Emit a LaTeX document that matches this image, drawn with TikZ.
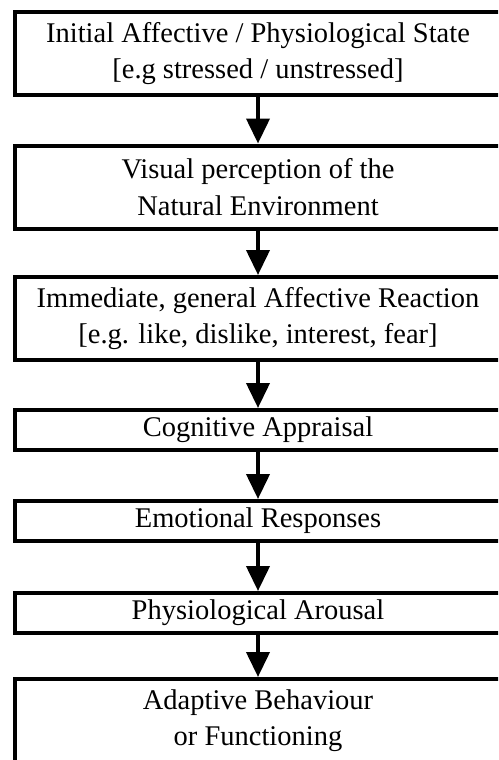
\documentclass[tikz,border=0pt]{standalone}
\usepackage{fontspec}
\setmainfont{Liberation Serif}
\usetikzlibrary{arrows.meta}

\tikzset{
  etape/.style={draw, line width=4pt, minimum width=486pt, inner sep=0pt,
    align=center, font=\fontsize{28.5}{36.5}\selectfont},
  haute/.style={etape, minimum height=83pt},
  basse/.style={etape, minimum height=40pt},
  fleche/.style={line width=4pt, -{Triangle[length=25pt, width=23pt]}}
}

\begin{document}
\begin{tikzpicture}[x=1pt, y=1pt]
  % Cadre
  \useasboundingbox (0,0) rectangle (498,-760);
  \clip (0,0) rectangle (498,-760);

  % Étapes
  \node[haute] (init) at (258,-53.5) {Initial Affective / Physiological State\\{[e.g stressed / unstressed]}};
  \node[haute] (vision) at (258,-187) {Visual perception of the\\Natural Environment};
  \node[haute] (reaction) at (258,-318.5) {Immediate, general Affective Reaction\\{[e.g. like, dislike, interest, fear]}};
  \node[basse] (cognition) at (258,-430) {Cognitive Appraisal};
  \node[basse] (emotion) at (258,-521) {Emotional Responses};
  \node[basse] (eveil) at (258,-613) {Physiological Arousal};
  \node[haute] (adaptation) at (258,-720.5) {Adaptive Behaviour\\or Functioning};

  % Flèches
  \foreach \a/\b in {init/vision, vision/reaction, reaction/cognition,
    cognition/emotion, emotion/eveil, eveil/adaptation}
    \draw[fleche] (\a.south) -- (\b.north);

\end{tikzpicture}
\end{document}
